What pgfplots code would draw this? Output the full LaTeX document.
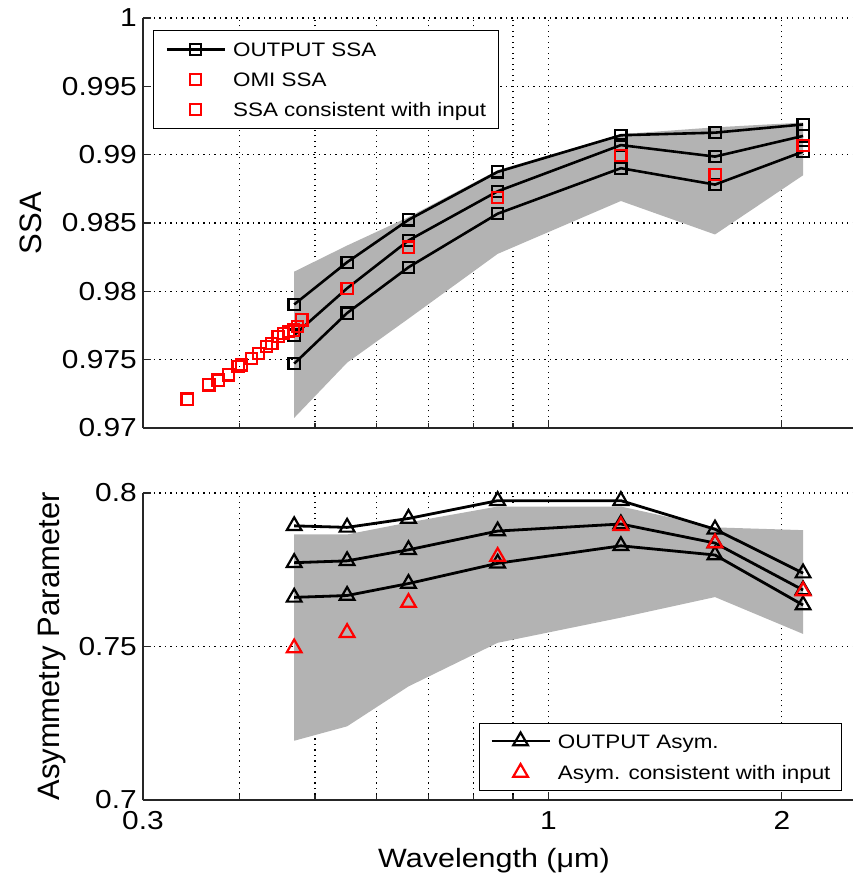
\documentclass[border=0pt]{standalone}
\usepackage{pgfplots}
\pgfplotsset{compat=1.18}
\usepackage{fontspec}
\setmainfont{Liberation Sans}[FakeStretch=1.15]
\newfontfamily\ylabfont{Liberation Sans}
\definecolor{shade}{RGB}{179,179,179}
\pgfplotsset{legend image code/.code={\draw[mark repeat=2,mark phase=2,#1] plot coordinates {(0pt,0pt) (29pt,0pt) (58pt,0pt)};}}
\begin{document}
\begin{tikzpicture}
% ---------------- top: SSA ----------------
\begin{axis}[
  scale only axis, width=714pt, height=410pt,
  at={(0pt,372pt)}, anchor=south west,
  xmode=log, xmin=0.3, xmax=2.5,
  xtick={0.3,1,2}, minor xtick={0.4,0.5,0.6,0.7,0.8,0.9},
  xticklabels={},
  axis lines=left,
  axis line style={line width=1.3pt, black!85, -},
  tick style={line width=1.1pt, black!85},
  tick align=inside, major tick length=8pt, minor tick length=5pt,
  grid=both,
  major grid style={black, line width=1.1pt, dash pattern=on 1.1pt off 4.4pt},
  minor grid style={black, line width=1.1pt, dash pattern=on 1.1pt off 4.4pt},
  tick label style={font=\fontsize{26}{30}\selectfont},
  yticklabel style={inner sep=0pt, xshift=-6pt},
  ymin=0.97, ymax=1,
  ytick={0.97,0.975,0.98,0.985,0.99,0.995,1},
  yticklabels={0.97,0.975,0.98,0.985,0.99,0.995,1},
  ylabel={\ylabfont\fontsize{31}{34}\selectfont SSA},
  ylabel style={at={(axis description cs:-0.157,0.5)}, anchor=center},
  legend cell align=left,
  legend style={at={(axis description cs:0.014,0.971)}, anchor=north west,
    font=\fontsize{19.5}{23}\selectfont, draw=black, line width=1pt, fill=white,
    inner xsep=12pt, inner ysep=9pt, row sep=10pt, column sep=7pt,
    nodes={inner sep=0pt, text height=17pt, text depth=3pt}},
]
\addplot[fill=shade, draw=none, forget plot] coordinates {
  (0.47,0.98144) (0.55,0.98335) (0.66,0.98543) (0.86,0.98886) (1.24,0.99150) (1.64,0.99200) (2.13,0.99235)
  (2.13,0.98849) (1.64,0.98416) (1.24,0.98661) (0.86,0.98274) (0.66,0.97800) (0.55,0.97478) (0.47,0.97074)
} -- cycle;
\addplot[black, line width=2.6pt, mark=square, mark size=5.6pt, mark options={solid, line width=2.2pt}] coordinates {
  (0.47,0.97904) (0.55,0.98213) (0.66,0.98523) (0.86,0.98874) (1.24,0.99142) (1.64,0.99161) (2.13,0.99221)};
\addlegendentry{OUTPUT SSA}
\addplot[black, line width=2.6pt, mark=square, mark size=5.6pt, mark options={solid, line width=2.2pt}, forget plot] coordinates {
  (0.47,0.97680) (0.55,0.98022) (0.66,0.98372) (0.86,0.98732) (1.24,0.99070) (1.64,0.98986) (2.13,0.99137)};
\addplot[black, line width=2.6pt, mark=square, mark size=5.6pt, mark options={solid, line width=2.2pt}, forget plot] coordinates {
  (0.47,0.97471) (0.55,0.97841) (0.66,0.98176) (0.86,0.98568) (1.24,0.98901) (1.64,0.98781) (2.13,0.99022)};
\addplot[only marks, red, mark=square, mark size=5.6pt, mark options={line width=2.2pt}] coordinates {
  (0.342,0.97212) (0.365,0.97315) (0.375,0.97351) (0.387,0.97388) (0.398,0.97449) (0.402,0.97461)
  (0.414,0.97510) (0.423,0.97547) (0.433,0.97595) (0.440,0.97620) (0.448,0.97668) (0.455,0.97693)
  (0.462,0.97705) (0.469,0.97717) (0.475,0.97742) (0.481,0.97791)};
\addlegendentry{OMI SSA}
\addplot[only marks, red, mark=square, mark size=5.6pt, mark options={line width=2.2pt}] coordinates {
  (0.55,0.98020) (0.66,0.98323) (0.86,0.98685) (1.24,0.98993) (1.64,0.98856) (2.13,0.99065)};
\addlegendentry{SSA consistent with input}
\end{axis}
% ---------------- bottom: asymmetry ----------------
\begin{axis}[
  scale only axis, width=714pt, height=307pt,
  at={(0pt,0pt)}, anchor=south west,
  xmode=log, xmin=0.3, xmax=2.5,
  xtick={0.3,1,2}, minor xtick={0.4,0.5,0.6,0.7,0.8,0.9},
  xticklabels={0.3,1,2},
  axis lines=left,
  axis line style={line width=1.3pt, black!85, -},
  tick style={line width=1.1pt, black!85},
  tick align=inside, major tick length=8pt, minor tick length=5pt,
  grid=both,
  major grid style={black, line width=1.1pt, dash pattern=on 1.1pt off 4.4pt},
  minor grid style={black, line width=1.1pt, dash pattern=on 1.1pt off 4.4pt},
  tick label style={font=\fontsize{26}{30}\selectfont},
  yticklabel style={inner sep=0pt, xshift=-6pt},
  xticklabel style={inner sep=0pt, yshift=-11pt},
  ymin=0.7, ymax=0.8,
  ytick={0.7,0.75,0.8}, yticklabels={0.7,0.75,0.8},
  ylabel={\ylabfont\fontsize{31}{34}\selectfont Asymmetry Parameter},
  ylabel style={at={(axis description cs:-0.127,0.5)}, anchor=center},
  xlabel={\fontsize{26.5}{30}\selectfont Wavelength (μm)},
  xlabel style={at={(axis description cs:0.5,0)}, anchor=north, inner sep=0pt, yshift=-48pt, xshift=-6pt},
  legend cell align=left,
  legend style={at={(axis description cs:0.979,0.0293)}, anchor=south east,
    font=\fontsize{19.5}{23}\selectfont, draw=black, line width=1pt, fill=white,
    inner xsep=11pt, inner ysep=8pt, row sep=11.5pt, column sep=7pt,
    nodes={inner sep=0pt, text height=17pt, text depth=3pt}},
]
\addplot[fill=shade, draw=none, forget plot] coordinates {
  (0.47,0.7865) (0.55,0.7865) (0.66,0.7904) (0.86,0.7956) (1.24,0.7956) (1.64,0.7888) (2.13,0.7879)
  (2.13,0.7541) (1.64,0.7661) (1.24,0.7594) (0.86,0.7512) (0.66,0.7370) (0.55,0.7240) (0.47,0.7193)
} -- cycle;
\addplot[black, line width=2.8pt, mark=triangle, mark size=8.5pt, mark options={solid, line width=2.2pt}] coordinates {
  (0.47,0.7893) (0.55,0.7888) (0.66,0.7917) (0.86,0.7975) (1.24,0.7975) (1.64,0.7882) (2.13,0.7739)};
\addlegendentry{OUTPUT Asym.}
\addplot[black, line width=2.8pt, mark=triangle, mark size=8.5pt, mark options={solid, line width=2.2pt}, forget plot] coordinates {
  (0.47,0.7773) (0.55,0.7779) (0.66,0.7815) (0.86,0.7876) (1.24,0.7899) (1.64,0.7837) (2.13,0.7684)};
\addplot[black, line width=2.8pt, mark=triangle, mark size=8.5pt, mark options={solid, line width=2.2pt}, forget plot] coordinates {
  (0.47,0.7660) (0.55,0.7666) (0.66,0.7705) (0.86,0.7771) (1.24,0.7828) (1.64,0.7798) (2.13,0.7635)};
\addplot[only marks, red, mark=triangle, mark size=8.5pt, mark options={line width=2.2pt}] coordinates {
  (0.47,0.7495) (0.55,0.7545) (0.66,0.7643) (0.86,0.7793) (1.24,0.7893) (1.64,0.7837) (2.13,0.7681)};
\addlegendentry{Asym. consistent with input}
\end{axis}
\pgfresetboundingbox
\path (-143pt,-75pt) rectangle (709pt,800pt);
\end{tikzpicture}
\end{document}
